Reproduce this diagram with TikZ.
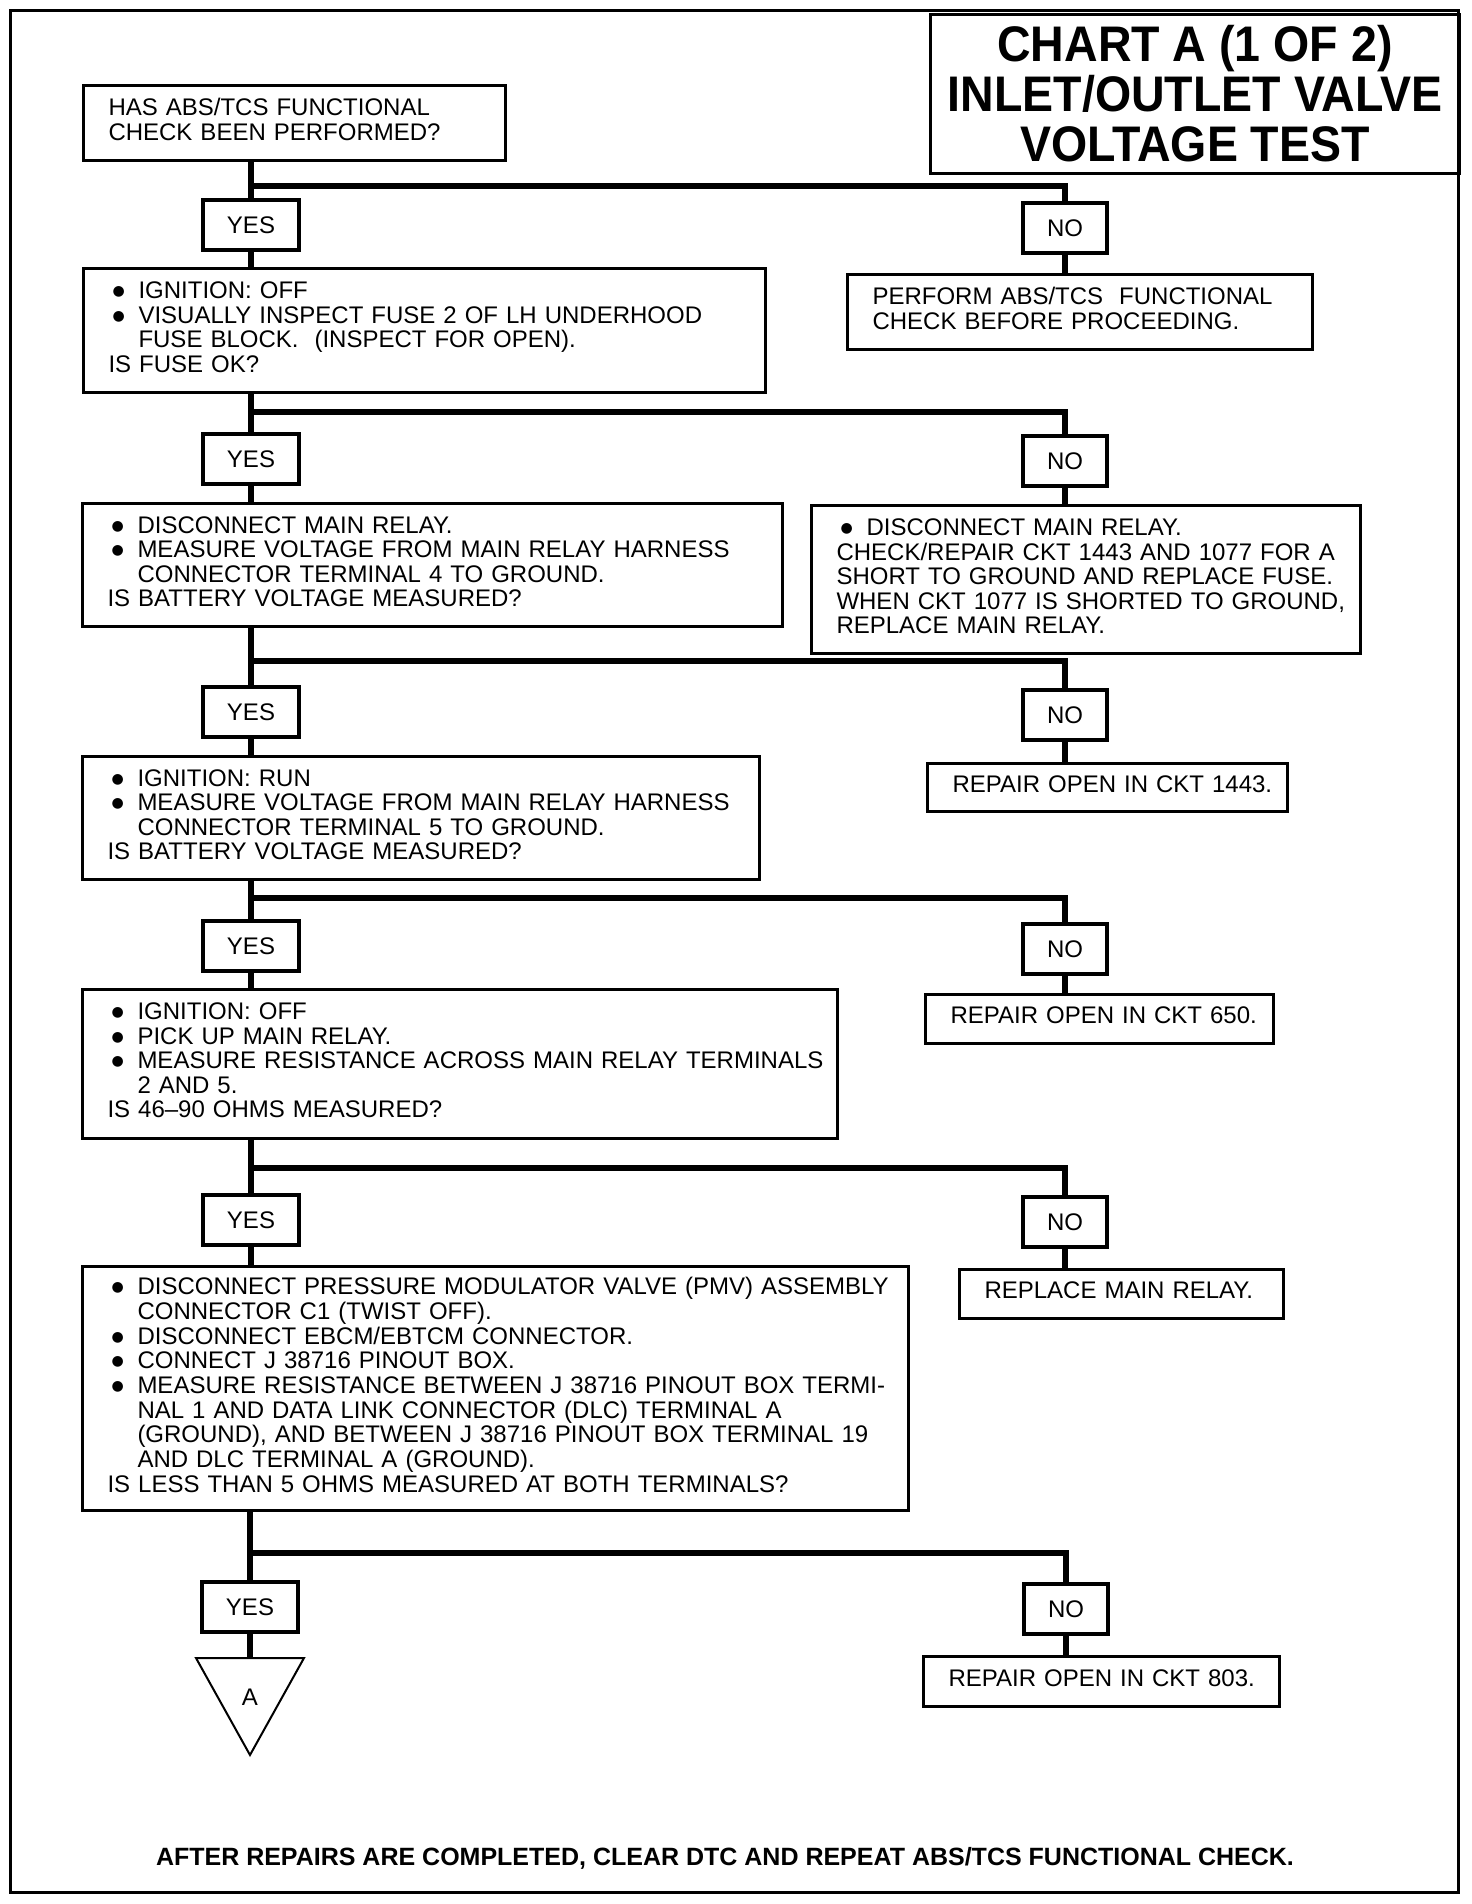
\documentclass[tikz,border=0pt]{standalone}
\usepackage{fontspec}
\setmainfont{Liberation Sans}
\newfontfamily\chartfont[FakeStretch=0.93]{Liberation Sans}
\newfontfamily\dotfont{DejaVu Sans}
\newcommand\boxfont{\fontsize{24}{24.5}\selectfont}
\newcommand\bul{\makebox[30pt][l]{\hspace{4pt}\raisebox{3pt}{\dotfont\fontsize{14}{14}\selectfont ●}}}
\newcommand\ind{\hspace*{30pt}}
\newcommand\steplines[1]{\begin{tabular}{@{}l@{}}#1\end{tabular}}

\tikzset{
  stepbox/.style={draw, line width=3pt, anchor=north west, inner xsep=25pt, inner ysep=0pt, align=left, font=\boxfont},
  ansbox/.style={draw, line width=3.5pt, minimum height=50pt, inner sep=0pt, font=\boxfont},
  yesbox/.style={ansbox, minimum width=96pt},
  nobox/.style={ansbox, minimum width=84pt},
  link/.style={line width=6pt}
}

\begin{document}
\begin{tikzpicture}[x=1pt, y=-1pt]
\useasboundingbox (0,0) rectangle (1472,1904);
\draw[line width=3pt] (10,10) rectangle (1458,1892);
\node[draw, line width=3pt, anchor=north west, minimum width=529pt, minimum height=159pt, align=center,
  font=\chartfont\bfseries\fontsize{50}{50}\selectfont] (title) at (929,13)
  {CHART A (1 OF 2)\\INLET/OUTLET VALVE\\VOLTAGE TEST};

\node[stepbox, text width=372pt, minimum height=75pt] (q1) at (82,84)
  {\steplines{HAS ABS/TCS FUNCTIONAL\\CHECK BEEN PERFORMED?}};
\node[yesbox] (y1) at (251,225) {YES};
\node[nobox] (n1) at (1065,228) {NO};
\node[stepbox, text width=632pt, minimum height=124pt] (s1) at (82,267)
  {\steplines{\bul IGNITION: OFF\\
   \bul VISUALLY INSPECT FUSE 2 OF LH UNDERHOOD\\
   \ind FUSE BLOCK.\ \ (INSPECT FOR OPEN).\\
   IS FUSE OK?}};
\node[stepbox, text width=415pt, minimum height=75pt] (p1) at (846,273)
  {\steplines{PERFORM ABS/TCS\ \ FUNCTIONAL\\CHECK BEFORE PROCEEDING.}};

\node[yesbox] (y2) at (251,459) {YES};
\node[nobox] (n2) at (1065,461) {NO};
\node[stepbox, text width=650pt, minimum height=123pt] (s2) at (81,502)
  {\steplines{\bul DISCONNECT MAIN RELAY.\\
   \bul MEASURE VOLTAGE FROM MAIN RELAY HARNESS\\
   \ind CONNECTOR TERMINAL 4 TO GROUND.\\
   IS BATTERY VOLTAGE MEASURED?}};
\node[stepbox, text width=499pt, minimum height=148pt] (p2) at (810,504)
  {\steplines{\bul DISCONNECT MAIN RELAY.\\
   CHECK/REPAIR CKT 1443 AND 1077 FOR A\\
   SHORT TO GROUND AND REPLACE FUSE.\\
   WHEN CKT 1077 IS SHORTED TO GROUND,\\
   REPLACE MAIN RELAY.}};

\node[yesbox] (y3) at (251,712) {YES};
\node[nobox] (n3) at (1065,715) {NO};
\node[stepbox, text width=627pt, minimum height=123pt] (s3) at (81,755)
  {\steplines{\bul IGNITION: RUN\\
   \bul MEASURE VOLTAGE FROM MAIN RELAY HARNESS\\
   \ind CONNECTOR TERMINAL 5 TO GROUND.\\
   IS BATTERY VOLTAGE MEASURED?}};
\node[stepbox, text width=310pt, minimum height=48pt] (p3) at (926,762)
  {\steplines{REPAIR OPEN IN CKT 1443.}};

\node[yesbox] (y4) at (251,946) {YES};
\node[nobox] (n4) at (1065,949) {NO};
\node[stepbox, text width=705pt, minimum height=149pt] (s4) at (81,988)
  {\steplines{\bul IGNITION: OFF\\
   \bul PICK UP MAIN RELAY.\\
   \bul MEASURE RESISTANCE ACROSS MAIN RELAY TERMINALS\\
   \ind 2 AND 5.\\
   IS 46--90 OHMS MEASURED?}};
\node[stepbox, text width=298pt, minimum height=49pt] (p4) at (924,993)
  {\steplines{REPAIR OPEN IN CKT 650.}};

\node[yesbox] (y5) at (251,1220) {YES};
\node[nobox] (n5) at (1065,1222) {NO};
\node[stepbox, text width=776pt, minimum height=244pt] (s5) at (81,1265)
  {\steplines{\bul DISCONNECT PRESSURE MODULATOR VALVE (PMV) ASSEMBLY\\
   \ind CONNECTOR C1 (TWIST OFF).\\
   \bul DISCONNECT EBCM/EBTCM CONNECTOR.\\
   \bul CONNECT J 38716 PINOUT BOX.\\
   \bul MEASURE RESISTANCE BETWEEN J 38716 PINOUT BOX TERMI-\\
   \ind NAL 1 AND DATA LINK CONNECTOR (DLC) TERMINAL A\\
   \ind (GROUND), AND BETWEEN J 38716 PINOUT BOX TERMINAL 19\\
   \ind AND DLC TERMINAL A (GROUND).\\
   IS LESS THAN 5 OHMS MEASURED AT BOTH TERMINALS?}};
\node[stepbox, text width=274pt, minimum height=49pt] (p5) at (958,1268)
  {\steplines{REPLACE MAIN RELAY.}};

\node[yesbox] (y6) at (250,1607) {YES};
\node[nobox] (n6) at (1066,1609) {NO};
\node[stepbox, text width=306pt, minimum height=50pt] (p6) at (922,1655)
  {\steplines{REPAIR OPEN IN CKT 803.}};

\coordinate (b1) at (251,186);
\coordinate (b2) at (251,412);
\coordinate (b3) at (251,661);
\coordinate (b4) at (251,898);
\coordinate (b5) at (251,1168);
\coordinate (b6) at (250,1553);
\coordinate (tri) at (250,1658);

\draw[link] (q1.south -| y1) -- (y1.north);
\draw[link] (b1) -| (n1.north);
\draw[link] (y1.south) -- (y1.south |- s1.north);
\draw[link] (n1.south) -- (n1.south |- p1.north);
\draw[link] (s1.south -| y2) -- (y2.north);
\draw[link] (b2) -| (n2.north);
\draw[link] (y2.south) -- (y2.south |- s2.north);
\draw[link] (n2.south) -- (n2.south |- p2.north);
\draw[link] (s2.south -| y3) -- (y3.north);
\draw[link] (b3) -| (n3.north);
\draw[link] (y3.south) -- (y3.south |- s3.north);
\draw[link] (n3.south) -- (n3.south |- p3.north);
\draw[link] (s3.south -| y4) -- (y4.north);
\draw[link] (b4) -| (n4.north);
\draw[link] (y4.south) -- (y4.south |- s4.north);
\draw[link] (n4.south) -- (n4.south |- p4.north);
\draw[link] (s4.south -| y5) -- (y5.north);
\draw[link] (b5) -| (n5.north);
\draw[link] (y5.south) -- (y5.south |- s5.north);
\draw[link] (n5.south) -- (n5.south |- p5.north);
\draw[link] (s5.south -| y6) -- (y6.north);
\draw[link] (b6) -| (n6.north);
\draw[link] (y6.south) -- (tri);
\draw[link] (n6.south) -- (n6.south |- p6.north);

\draw[line width=2pt] (196,1658) -- (304,1658) -- (250,1755) -- cycle;
\node[font=\boxfont] (mark) at (250,1697) {A};

\node[font=\bfseries\fontsize{25}{26}\selectfont] (note) at (725,1858)
  {AFTER REPAIRS ARE COMPLETED, CLEAR DTC AND REPEAT ABS/TCS FUNCTIONAL CHECK.};
\end{tikzpicture}
\end{document}
